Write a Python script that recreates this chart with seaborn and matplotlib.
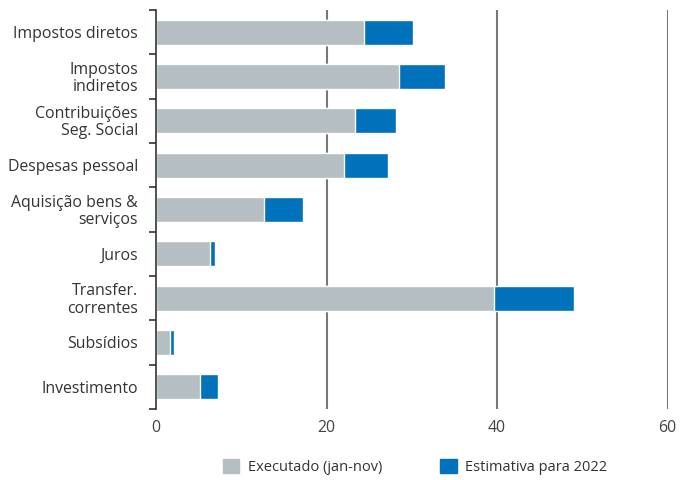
import matplotlib
matplotlib.use("Agg")
import matplotlib.pyplot as plt
import numpy as np
import seaborn as sns
from matplotlib.patches import Patch

# data (% ish values)
categories = ["Impostos diretos", "Impostos\nindiretos", "Contribuições\nSeg. Social",
              "Despesas pessoal", "Aquisição bens &\nserviços", "Juros",
              "Transfer.\ncorrentes", "Subsídios", "Investimento"]
executado = [24.4, 28.5, 23.3, 22.0, 12.7, 6.3, 39.6, 1.7, 5.2]
estimativa_total = [30.2, 33.9, 28.2, 27.2, 17.2, 6.9, 49.0, 2.1, 7.3]
legend_labels = ["Executado (jan-nov)", "Estimativa para 2022"]

gray = "#b4bec3"
blue = "#0072bb"

sns.set_style("white")
plt.rcParams['font.family'] = ['Open Sans', 'DejaVu Sans']

fig, ax = plt.subplots(figsize=(6.92, 4.8), dpi=100)
fig.subplots_adjust(left=0.2254, right=0.9647, top=0.979, bottom=0.148)

# blue = full estimate, gray drawn on top = executed part
sns.barplot(x=estimativa_total, y=categories, color=blue, width=0.56, saturation=1,
            orient="h", ax=ax)
sns.barplot(x=executado, y=categories, color=gray, width=0.56, saturation=1,
            orient="h", ax=ax)

ax.set_xlim(0, 60)
ax.set_ylim(len(categories) - 0.5, -0.5)
ax.set_xticks([0, 20, 40, 60])
for xv in [20, 40, 60]:
    ax.axvline(xv, color="#77787a", lw=1.5, zorder=0)
ax.set_axisbelow(True)

# category labels drawn by hand so the two-line ones are right aligned
ax.set_yticks(np.arange(len(categories)), [""] * len(categories))
for i, lab in enumerate(categories):
    ax.text(-0.035, i + 0.04, lab, transform=ax.get_yaxis_transform(), ha="right",
            va="center", ma="right", fontsize=11.4, color="#333333", linespacing=1.1)
# ticks on category boundaries along the left axis
ax.set_yticks(np.arange(-0.5, len(categories), 1.0), minor=True)
ax.tick_params(axis="y", which="minor", length=5, width=1.2, color="#333333", left=True)
ax.tick_params(axis="y", which="major", length=0)
ax.tick_params(axis="x", length=0, labelsize=11.4, labelcolor="#444444", pad=8)

for s in ["top", "right", "bottom"]:
    ax.spines[s].set_visible(False)
ax.spines["left"].set_color("#333333")
ax.spines["left"].set_linewidth(1.2)
ax.set_xlabel("")
ax.set_ylabel("")

handles = [Patch(color=gray), Patch(color=blue)]
fig.legend(handles, legend_labels, loc="center", bbox_to_anchor=(0.6, 0.027), ncol=2,
           frameon=False, fontsize=10.5, handlelength=1.1, handleheight=1.1,
           handletextpad=0.6, columnspacing=4.0, labelcolor="#333333")

plt.savefig("out.png", dpi=100)
